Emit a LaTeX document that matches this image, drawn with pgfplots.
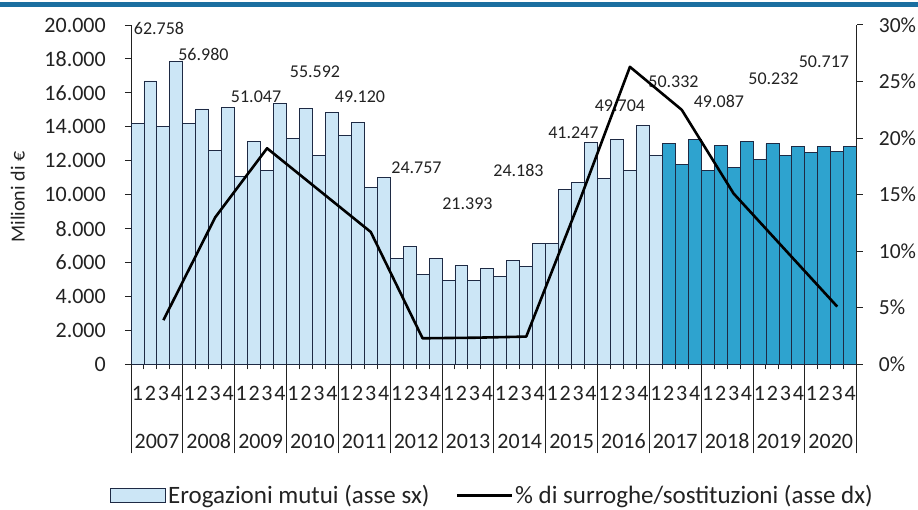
\documentclass[border=0pt]{standalone}
\usepackage{pgfplots}
\pgfplotsset{compat=1.18}
\usepackage{fontspec}
\setmainfont{Carlito}
\definecolor{lightbar}{HTML}{CCE6F6}
\definecolor{tealbar}{HTML}{2EA3CF}
\definecolor{edge}{HTML}{1E2A44}
\definecolor{topline}{HTML}{1B6FA0}
\definecolor{txt}{HTML}{222222}

\pgfplotstableread{
x y
0 14200
1 16700
2 14000
3 17850
4 14200
5 15050
6 12600
7 15150
8 11100
9 13130
10 11420
11 15400
12 13310
13 15060
14 12330
15 14870
16 13500
17 14230
18 10400
19 10990
20 6250
21 6950
22 5300
23 6250
24 4950
25 5820
26 4950
27 5670
28 5200
29 6100
30 5750
31 7130
32 7150
33 10300
34 10720
35 13070
36 10980
37 13230
38 11450
39 14050
40 12300
}\lightdata

\pgfplotstableread{
x y
41 13000
42 11800
43 13250
44 11420
45 12900
46 11620
47 13150
48 12100
49 13000
50 12300
51 12820
52 12500
53 12850
54 12550
55 12820
}\tealdata

\pgfplotstableread{
x y lab
1.66 19790 62.758
5.09 18250 56.980
9.15 15770 51.047
13.70 17250 55.592
17.17 15770 49.120
21.53 11580 24.757
25.46 9460 21.393
29.40 11400 24.183
33.64 13640 41.247
37.23 15240 49.704
41.36 16650 50.332
44.87 15470 49.087
49.08 16830 50.232
52.97 17830 50.717
}\labdata

\pgfplotstableread{
x y
2 3.9
6 13.0
10 19.1
14 15.4
18 11.7
22 2.3
26 2.35
30 2.45
34 14.1
38 26.3
42 22.5
46 15.1
50 10.1
54 5.1
}\linedata

\begin{document}
\begin{tikzpicture}[x=1pt,y=1pt]
\useasboundingbox (0,0) rectangle (918,509);
\fill[topline] (0,502.3) rectangle (918,507.3);

\begin{axis}[
  at={(131pt,144.7pt)}, anchor=south west, scale only axis,
  width=725.7pt, height=339.3pt,
  xmin=-0.5, xmax=55.5, ymin=0, ymax=20000,
  clip=false,
  scaled y ticks=false,
  axis y line*=left, axis x line*=bottom,
  axis line style={draw=txt, line width=1pt, -},
  tick align=outside,
  major tick length=6pt, minor tick length=5pt,
  every tick/.style={draw=txt, line width=1pt},
  ytick={0,2000,...,20000},
  yticklabel style={font=\fontsize{22}{24}\selectfont, text=txt, anchor=east, inner sep=0pt, xshift=-19pt},
  /pgf/number format/.cd, fixed, precision=0, 1000 sep={.}, assume math mode=true, /pgfplots/.cd,
  xtick={0,...,55},
  xticklabels={1,2,3,4,1,2,3,4,1,2,3,4,1,2,3,4,1,2,3,4,1,2,3,4,1,2,3,4,1,2,3,4,1,2,3,4,1,2,3,4,1,2,3,4,1,2,3,4,1,2,3,4,1,2,3,4},
  major x tick style={draw=none},
  minor xtick={-0.5,0.5,...,55.5},
  xticklabel style={font=\fontsize{22}{24}\selectfont, text=txt, anchor=center, inner sep=0pt, yshift=-23pt},
  ylabel={Milioni di €},
  every axis y label/.style={at={(axis description cs:-0.156,0.493)}, rotate=90, anchor=center, font=\fontsize{20}{22}\selectfont, text=txt},
  legend columns=2,
  legend cell align=left,
  legend style={at={(-0.0289,-0.386)}, anchor=west, draw=none, fill=none, inner sep=0pt,
    font=\fontsize{25}{27}\selectfont, text=txt,
    /tikz/every even column/.append style={column sep=24pt}},
]
\addplot[ybar, bar width=1, bar shift=0pt, fill=lightbar, draw=edge, line width=0.9pt,
  legend image code/.code={\draw[fill=lightbar, draw=edge, line width=0.9pt] (0pt,-6.8pt) rectangle (55pt,6.8pt);}]
  table[x=x, y=y] {\lightdata};
\addlegendentry{Erogazioni mutui (asse sx)}
\addplot[ybar, bar width=1, bar shift=0pt, fill=tealbar, draw=edge, line width=0.9pt, forget plot]
  table[x=x, y=y] {\tealdata};
\addplot[only marks, mark=none, forget plot, nodes near coords, point meta=explicit symbolic,
  nodes near coords align={center},
  every node near coord/.append style={font=\fontsize{18}{20}\selectfont, text=txt, inner sep=0pt}]
  table[x=x, y=y, meta=lab] {\labdata};
\addlegendimage{legend image code/.code={\draw[black, line width=2.6pt] (0pt,0pt) -- (55pt,0pt);}}
\addlegendentry{\% di surroghe/sostituzioni (asse dx)}
\end{axis}

\begin{axis}[
  at={(131pt,144.7pt)}, anchor=south west, scale only axis,
  width=725.7pt, height=339.3pt,
  xmin=-0.5, xmax=55.5, ymin=0, ymax=30,
  axis y line*=right, axis x line*=bottom,
  axis line style={draw=txt, line width=1pt, -},
  x axis line style={draw=none},
  tick align=outside,
  major tick length=6pt, minor tick length=89pt,
  every tick/.style={draw=txt, line width=1pt},
  ytick={0,5,...,30},
  yticklabel={\pgfmathprintnumber{\tick}\%},
  yticklabel style={font=\fontsize{21.5}{24}\selectfont, text=txt, anchor=west, inner sep=0pt, xshift=16pt},
  /pgf/number format/.cd, fixed, precision=0, assume math mode=true, /pgfplots/.cd,
  xtick={1.5,5.5,...,53.5},
  xticklabels={2007,2008,2009,2010,2011,2012,2013,2014,2015,2016,2017,2018,2019,2020},
  major x tick style={draw=none},
  minor xtick={-0.5,3.5,...,55.5},
  xticklabel style={font=\fontsize{22}{24}\selectfont, text=txt, anchor=center, inner sep=0pt, yshift=-71pt},
]
\addplot[black, line width=2.6pt, line join=round] table[x=x, y=y] {\linedata};
\end{axis}
\end{tikzpicture}
\end{document}
